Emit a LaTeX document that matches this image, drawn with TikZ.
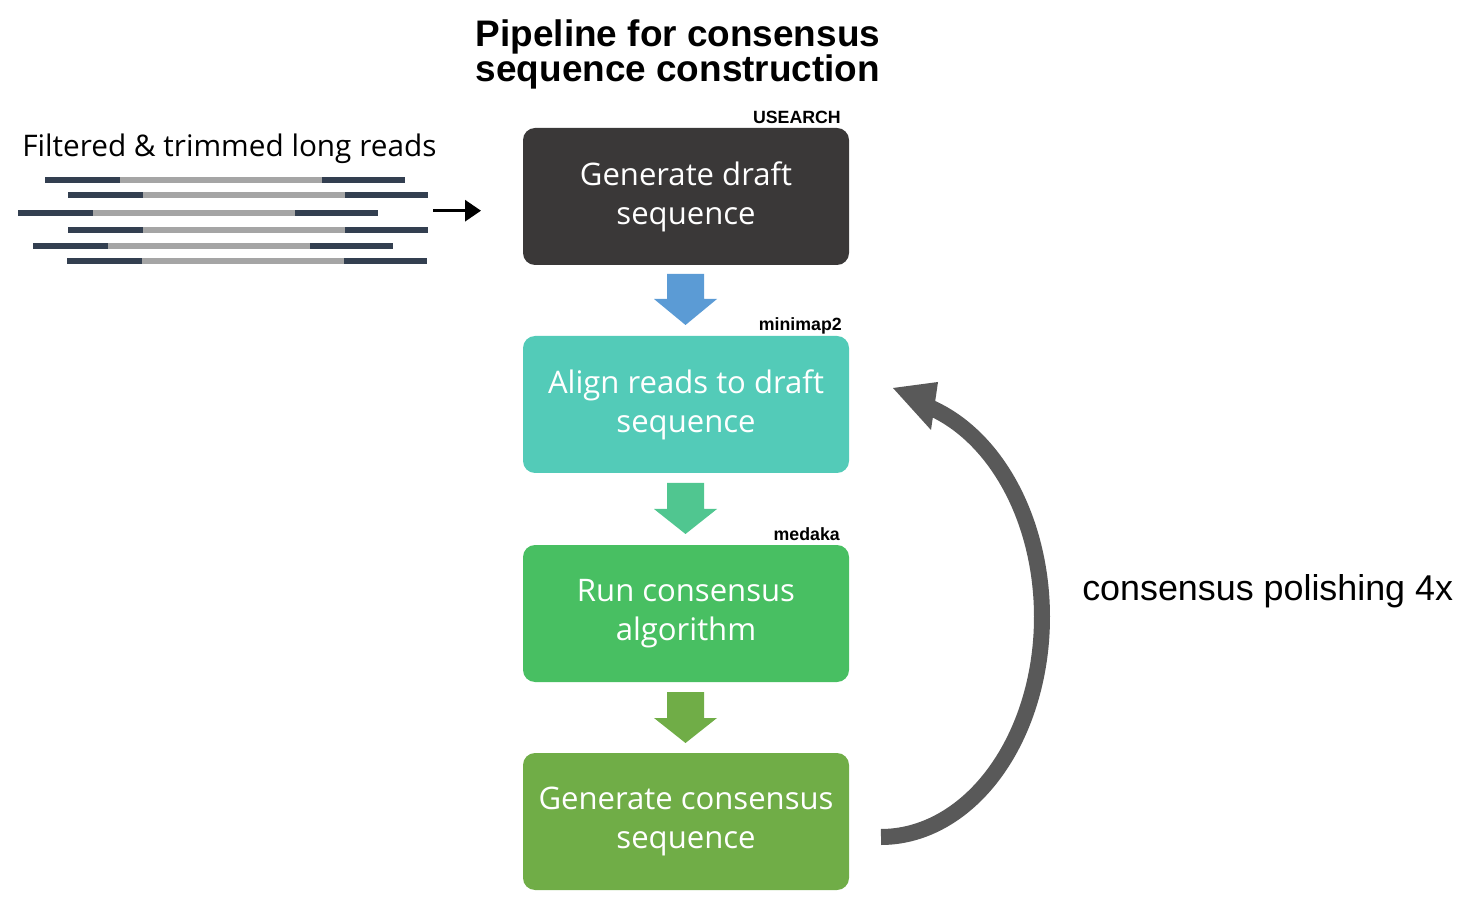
\documentclass[tikz,border=0pt]{standalone}
\usepackage{fontspec}
\setmainfont{Open Sans}
\newfontfamily\arialf{Liberation Sans}
\usetikzlibrary{arrows.meta}
\definecolor{boxdark}{HTML}{3A3838}
\definecolor{boxteal}{HTML}{53CBB8}
\definecolor{boxgreen}{HTML}{48BF62}
\definecolor{boxolive}{HTML}{70AD47}
\definecolor{arrblue}{HTML}{5B9BD5}
\definecolor{arrmint}{HTML}{50C690}
\definecolor{readdark}{HTML}{333F50}
\definecolor{readgray}{HTML}{A5A5A5}
\definecolor{loopgray}{HTML}{595959}
\tikzset{
  stepbox/.style={rectangle, rounded corners=9pt, minimum width=244.5pt, minimum height=102.75pt,
    text=white, align=center, font=\fontsize{23.3}{29.25}\selectfont, inner sep=0pt},
  toollabel/.style={anchor=base east, inner sep=0pt, font=\arialf\bfseries\fontsize{13.3}{15}\selectfont},
  readdk/.style={draw=readdark, line width=4.5pt},
  readgr/.style={draw=readgray, line width=4.5pt},
}
\begin{document}
\begin{tikzpicture}[x=0.75pt, y=-0.75pt]
\useasboundingbox (0,0) rectangle (1468,898);
% title
\node[align=center, inner sep=0pt, font=\arialf\bfseries\fontsize{27.7}{26.3}\selectfont] (title) at (678,54) {Pipeline for consensus\\sequence construction};
% boxes
\node[stepbox, fill=boxdark] (b1) at (686,196.5) {Generate draft\\sequence};
\node[stepbox, fill=boxteal] (b2) at (686,404.5) {Align reads to draft\\sequence};
\node[stepbox, fill=boxgreen] (b3) at (686,613.5) {Run consensus\\algorithm};
\node[stepbox, fill=boxolive] (b4) at (686,821.5) {Generate consensus\\sequence};
% tool labels
\node[toollabel] (l1) at (841,124) {USEARCH};
\node[toollabel] (l2) at (842,331) {minimap2};
\node[toollabel] (l3) at (840,541) {medaka};
% block arrows
\fill[arrblue] (667,274) -- (704,274) -- (704,299) -- (717,299) -- (685.5,325) -- (654,299) -- (667,299) -- cycle;
\fill[arrmint] (667,483) -- (704,483) -- (704,509) -- (717,509) -- (685.5,534) -- (654,509) -- (667,509) -- cycle;
\fill[boxolive] (667,692) -- (704,692) -- (704,718) -- (717,718) -- (685.5,743) -- (654,718) -- (667,718) -- cycle;
% reads label
\node[anchor=base west, inner sep=0pt, font=\fontsize{22.3}{26}\selectfont] (rl) at (22,157) {Filtered \& trimmed long reads};
% reads
\foreach \y/\a/\b/\c/\d in {180/45/120/322/405, 195.3/68/143/345/428, 213.3/18/93/295/378, 229.7/68/143/345/428, 246.3/33/108/310/393, 261.3/67/142/344/427}{
  \draw[readdk] (\a,\y) -- (\b,\y);
  \draw[readgr] (\b,\y) -- (\c,\y);
  \draw[readdk] (\c,\y) -- (\d,\y);
}
% input arrow
\coordinate (ia) at (433,210.7);
\coordinate (ib) at (481,210.7);
\draw[line width=2.25pt, -{Triangle[length=12pt, width=15.75pt]}] (ia) -- (ib);
% loop arrow
\coordinate (ls) at (881,837);
\draw[loopgray, line width=12pt] plot[domain=-90:72, samples=80, smooth] ({881+161*cos(\x)}, {617-220*sin(\x)});
\fill[loopgray] (893,388) -- (938,382) -- (931,430) -- cycle;
\node[anchor=base west, inner sep=0pt, font=\arialf\fontsize{26.9}{30}\selectfont] (pl) at (1082,600) {consensus polishing 4x};
\end{tikzpicture}
\end{document}
